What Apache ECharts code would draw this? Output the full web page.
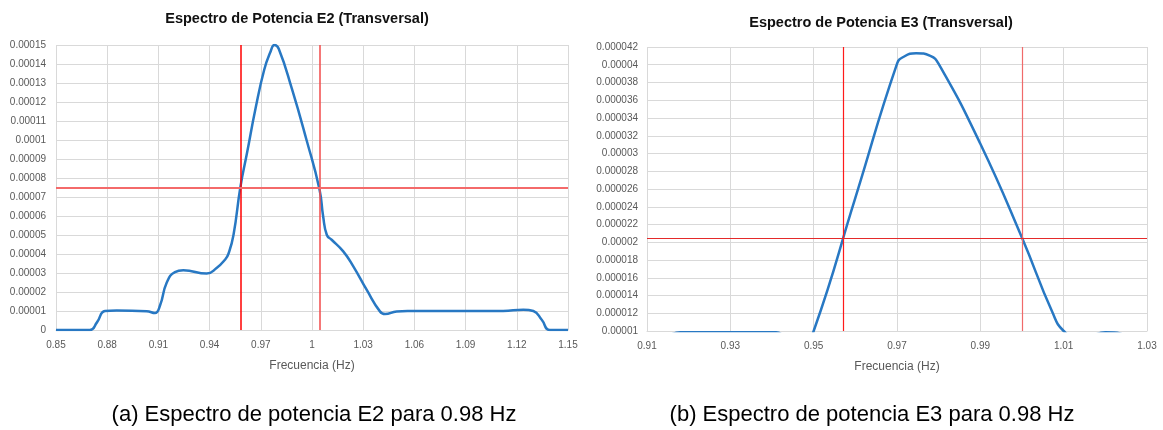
<!DOCTYPE html>
<html>
<head>
<meta charset="utf-8">
<script src="https://cdn.jsdelivr.net/npm/echarts@6/dist/echarts.min.js"></script>
<style>
  html, body { margin: 0; padding: 0; background: #ffffff; }
  #chart { width: 1163px; height: 430px; }
</style>
</head>
<body>
<div id="chart"></div>
<script>
// E2 transversal power spectrum
const e2Freq  = [0.85, 0.8699, 0.874, 0.8787, 0.8856, 0.9031, 0.908, 0.911, 0.9149, 0.9197, 0.9246, 0.9383,
                 0.9441, 0.949, 0.951, 0.954, 0.958, 0.962, 0.967, 0.972, 0.9755, 0.978, 0.9805, 0.9882,
                 0.9968, 1.0044, 1.0065, 1.0087, 1.0115, 1.0183, 1.0242, 1.032, 1.0398, 1.0428, 1.0496,
                 1.056, 1.112, 1.1238, 1.1297, 1.1346, 1.1393, 1.15];
const e2Power = [0, 0, 0.0000040, 0.0000100, 0.0000103, 0.0000099, 0.0000089, 0.0000130, 0.0000250, 0.0000305,
                 0.0000314, 0.0000297, 0.0000326, 0.0000370, 0.0000400, 0.0000500, 0.0000750, 0.0000935,
                 0.000117, 0.000137, 0.000146, 0.000150, 0.000148, 0.000127, 0.000100, 0.0000740, 0.0000600,
                 0.0000500, 0.0000475, 0.0000414, 0.0000335, 0.0000212, 0.0000098, 0.0000084, 0.0000098,
                 0.0000100, 0.0000100, 0.0000107, 0.0000100, 0.0000054, 0, 0];
// half-power cut lines for E2
const e2CutFreqs = [0.958, 1.0043];
const e2HalfPower = 0.000075;

// E3 transversal power spectrum
const e3Freq  = [0.91, 0.918, 0.941, 0.945, 0.95, 0.96, 0.97, 0.9716, 0.9746, 0.978, 0.98, 0.99, 1.00,
                 1.0073, 1.01, 1.014, 1.02, 1.026, 1.03];
const e3Power = [0.0000050, 0.00000985, 0.00000985, 0.0000050, 0.0000100, 0.0000250, 0.0000401, 0.0000409,
                 0.0000413, 0.0000410, 0.0000401, 0.0000311, 0.0000205, 0.0000121, 0.0000100, 0.0000090,
                 0.00000985, 0.0000090, 0.0000050];
// half-power cut lines for E3
const e3CutFreqs = [0.9572, 1.0];
const e3HalfPower = 0.0000204;

const titles   = ['Espectro de Potencia E2 (Transversal)', 'Espectro de Potencia E3 (Transversal)'];
const captions = ['(a) Espectro de potencia E2 para 0.98 Hz', '(b) Espectro de potencia E3 para 0.98 Hz'];
const xName = 'Frecuencia (Hz)';

const pairs = (xs, ys) => xs.map((x, i) => [x, ys[i]]);
const fmt = v => String(parseFloat(Number(v).toPrecision(6)));

const gridLine = { show: true, lineStyle: { color: '#d9d9d9', width: 1 } };
const labelStyle = { color: '#595959', fontSize: 10, fontFamily: 'Liberation Sans, Arial, sans-serif' };

function xAxisOf(gridIndex, min, max, interval) {
  return {
    type: 'value', gridIndex, min, max, interval,
    name: xName, nameLocation: 'middle', nameGap: 30,
    nameTextStyle: { color: '#595959', fontSize: 12, fontFamily: 'Liberation Sans, Arial, sans-serif' },
    axisLine: { show: true, lineStyle: { color: '#d9d9d9', width: 1 } },
    axisTick: { show: false },
    axisLabel: Object.assign({ margin: 10, formatter: fmt }, labelStyle),
    splitLine: gridLine
  };
}
function yAxisOf(gridIndex, min, max, interval, margin) {
  return {
    type: 'value', gridIndex, min, max, interval,
    axisLine: { show: false }, axisTick: { show: false },
    axisLabel: Object.assign({ margin, formatter: fmt }, labelStyle),
    splitLine: gridLine
  };
}
function cutLines(freqs, level, vColors, vWidths, hColor, hWidth) {
  return {
    silent: true, symbol: ['none', 'none'], animation: false, precision: 10,
    label: { show: false },
    data: [
      { xAxis: freqs[0], lineStyle: { color: vColors[0], width: vWidths[0], type: 'solid' } },
      { xAxis: freqs[1], lineStyle: { color: vColors[1], width: vWidths[1], type: 'solid' } },
      { yAxis: level, lineStyle: { color: hColor, width: hWidth, type: 'solid' } }
    ]
  };
}

const chart = echarts.init(document.getElementById('chart'), null, { renderer: 'canvas' });
chart.setOption({
  animation: false,
  backgroundColor: '#ffffff',
  grid: [
    { left: 56, top: 45, width: 512, height: 285 },
    { left: 647, top: 47, width: 500, height: 284 }
  ],
  xAxis: [ xAxisOf(0, 0.85, 1.15, 0.03), xAxisOf(1, 0.91, 1.03, 0.02) ],
  yAxis: [ yAxisOf(0, 0, 0.00015, 0.00001, 10), yAxisOf(1, 0.00001, 0.000042, 0.000002, 9) ],
  series: [
    {
      type: 'line', xAxisIndex: 0, yAxisIndex: 0,
      data: pairs(e2Freq, e2Power), smooth: 0.5, showSymbol: false,
      lineStyle: { color: '#2878c3', width: 2.5 }, z: 3,
      markLine: cutLines(e2CutFreqs, e2HalfPower, ['#ff0000', '#f24a4a'], [1.5, 1.5], '#f46a6a', 2)
    },
    {
      type: 'line', xAxisIndex: 1, yAxisIndex: 1,
      data: pairs(e3Freq, e3Power), smooth: 0.5, showSymbol: false,
      lineStyle: { color: '#2878c3', width: 2.5 }, z: 3,
      markLine: cutLines(e3CutFreqs, e3HalfPower, ['#ff1a1a', '#f06a6a'], [1.2, 1.2], '#e42a2a', 1)
    }
  ],
  graphic: [
    { type: 'text', x: 297, y: 19, style: { text: titles[0], textAlign: 'center', textVerticalAlign: 'middle',
      font: 'bold 14.5px "Liberation Sans", Arial, sans-serif', fill: '#111111' } },
    { type: 'text', x: 881, y: 23, style: { text: titles[1], textAlign: 'center', textVerticalAlign: 'middle',
      font: 'bold 14.5px "Liberation Sans", Arial, sans-serif', fill: '#111111' } },
    { type: 'text', x: 314, y: 415, style: { text: captions[0], textAlign: 'center', textVerticalAlign: 'middle',
      font: '22px "Liberation Sans", Arial, sans-serif', fill: '#000000' } },
    { type: 'text', x: 872, y: 415, style: { text: captions[1], textAlign: 'center', textVerticalAlign: 'middle',
      font: '22px "Liberation Sans", Arial, sans-serif', fill: '#000000' } }
  ]
});
</script>
</body>
</html>
